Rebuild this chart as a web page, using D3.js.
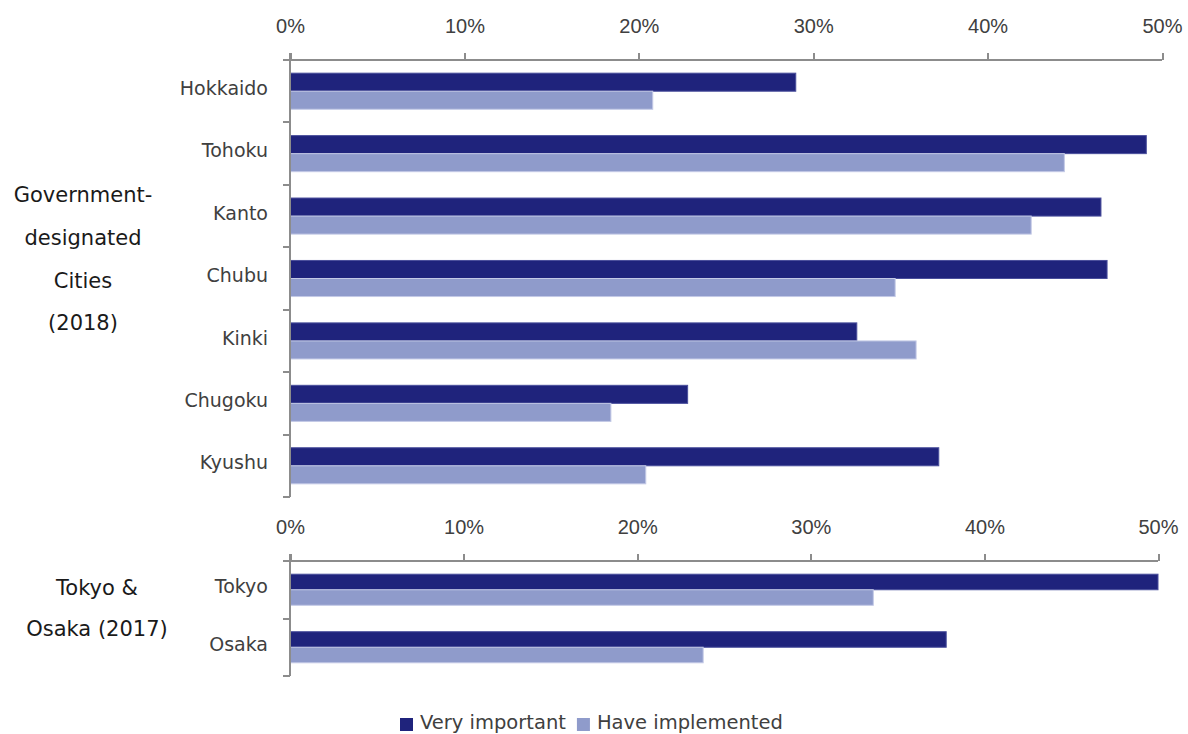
<!DOCTYPE html>
<html>
<head>
<meta charset="utf-8">
<script src="https://cdn.jsdelivr.net/npm/d3@7"></script>
<style>
  html, body { margin: 0; padding: 0; background: #fff; }
  svg { display: block; font-family: "DejaVu Sans", sans-serif; }
  .axis path, .axis line { stroke: #8c8c8c; stroke-width: 2; shape-rendering: crispEdges; }
  .axis text { fill: #404040; font-size: 19px; }
  .axis .tick text { font-size: 20px; }
</style>
</head>
<body>
<svg id="chart" width="1188" height="734"></svg>
<script>
// ---- data ----
const topCategories = ["Hokkaido", "Tohoku", "Kanto", "Chubu", "Kinki", "Chugoku", "Kyushu"];
const topVeryImportant = [0.290, 0.491, 0.465, 0.4685, 0.325, 0.228, 0.372];
const topImplemented   = [0.208, 0.444, 0.425, 0.347, 0.359, 0.184, 0.204];
const bottomCategories = ["Tokyo", "Osaka"];
const bottomVeryImportant = [0.500, 0.378];
const bottomImplemented   = [0.336, 0.238];
const seriesNames = ["Very important", "Have implemented"];
const seriesColors = ["#1f237c", "#8f9bcb"];
const seriesStrokes = ["#4a4f9c", "#c3c9e6"];
const xTicks = [0, 0.1, 0.2, 0.3, 0.4, 0.5];
const topGroupLabel = ["Government-", "designated", "Cities", "(2018)"];
const bottomGroupLabel = ["Tokyo &", "Osaka (2017)"];

const svg = d3.select("#chart");
const fmt = d3.format(".0%");

function panel(cfg) {
  const x = d3.scaleLinear().domain([0, 0.5]).range([cfg.x0, cfg.x1]);
  const y = d3.scaleBand().domain(cfg.categories).range([cfg.y0, cfg.y1]).paddingInner(0).paddingOuter(0);
  const g = svg.append("g");

  // bars
  const inner = d3.scaleBand().domain([0, 1]).range([0, y.bandwidth()])
    .paddingInner(0).paddingOuter(cfg.outerPad);
  const series = [cfg.v1, cfg.v2];
  series.forEach((vals, si) => {
    g.selectAll(null).data(cfg.categories).enter().append("rect")
      .attr("x", x(0))
      .attr("y", (d, i) => y(d) + inner(si))
      .attr("width", (d, i) => x(vals[i]) - x(0))
      .attr("height", inner.bandwidth())
      .attr("fill", seriesColors[si])
      .attr("stroke", seriesStrokes[si])
      .attr("stroke-width", 1);
  });

  // x axis on top
  const xa = g.append("g").attr("class", "axis")
    .attr("transform", `translate(0,${cfg.y0})`)
    .call(d3.axisTop(x).tickValues(xTicks).tickFormat(fmt).tickSize(7).tickSizeOuter(0).tickPadding(20));
  xa.select(".domain").attr("d", `M${x(0) - 7},0H${x(0.5)}`);

  // y axis
  const ya = g.append("g").attr("class", "axis")
    .attr("transform", `translate(${x(0)},0)`);
  ya.append("line").attr("x1", 0).attr("x2", 0).attr("y1", cfg.y0 - 7).attr("y2", cfg.y1);
  const bounds = cfg.categories.map(c => y(c)).concat([cfg.y1]);
  ya.selectAll("line.b").data(bounds.slice(1)).enter().append("line")
    .attr("class", "b").attr("x1", -7).attr("x2", 0).attr("y1", d => d).attr("y2", d => d);
  ya.selectAll("text").data(cfg.categories).enter().append("text")
    .attr("x", -22)
    .attr("y", d => y(d) + y.bandwidth() / 2 - 3)
    .attr("dy", "0.35em")
    .attr("text-anchor", "end")
    .text(d => d);

  // group label
  const gl = g.append("text").attr("text-anchor", "middle")
    .attr("fill", "#1a1a1a").style("font-size", "21px");
  cfg.groupLabel.forEach((t, i) => {
    gl.append("tspan").attr("x", cfg.glx).attr("y", cfg.gly + i * cfg.glStep).attr("dy", "0.35em").text(t);
  });
}

panel({
  categories: topCategories, v1: topVeryImportant, v2: topImplemented,
  x0: 290, x1: 1162, y0: 60, y1: 497, outerPad: 0.73,
  groupLabel: topGroupLabel, glx: 83, gly: 195, glStep: 42.7
});
panel({
  categories: bottomCategories, v1: bottomVeryImportant, v2: bottomImplemented,
  x0: 290, x1: 1158, y0: 561, y1: 676, outerPad: 0.85,
  groupLabel: bottomGroupLabel, glx: 97, gly: 588, glStep: 41
});

// legend
const legend = svg.append("g").attr("transform", "translate(400,0)");
let lx = 0;
seriesNames.forEach((name, i) => {
  const item = legend.append("g").attr("transform", `translate(${lx},0)`);
  item.append("rect").attr("x", 0).attr("y", 718).attr("width", 13).attr("height", 13)
    .attr("fill", seriesColors[i]);
  const t = item.append("text").attr("x", 20).attr("y", 729)
    .attr("fill", "#404040").style("font-size", "19.5px").text(name);
  lx += 20 + t.node().getComputedTextLength() + 11;
});
</script>
</body>
</html>
